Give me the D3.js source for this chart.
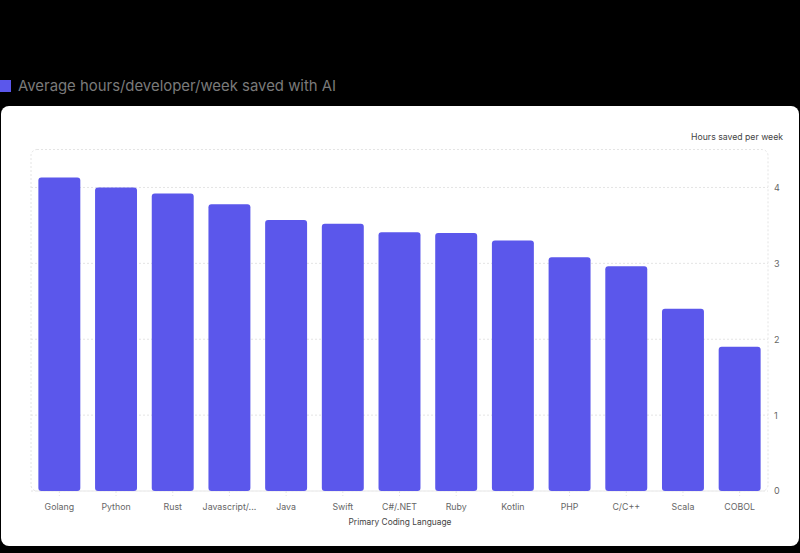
<!DOCTYPE html>
<html>
<head>
<meta charset="utf-8">
<script src="https://cdn.jsdelivr.net/npm/d3@7"></script>
<style>
  html, body { margin: 0; padding: 0; background: #000; }
  svg { display: block; font-family: Inter, "Noto Sans", sans-serif; }
</style>
</head>
<body>
<svg id="chart" width="800" height="553"></svg>
<script>
const categories = ["Golang", "Python", "Rust", "Javascript/...", "Java", "Swift", "C#/.NET", "Ruby", "Kotlin", "PHP", "C/C++", "Scala", "COBOL"];
const hoursSaved = [4.13, 4.0, 3.92, 3.78, 3.57, 3.52, 3.41, 3.40, 3.30, 3.08, 2.96, 2.40, 1.90];
const yTicks = [0, 1, 2, 3, 4];
const seriesName = "Average hours/developer/week saved with AI";
const yAxisTitle = "Hours saved per week";
const xAxisTitle = "Primary Coding Language";

const svg = d3.select("#chart");
const W = 800, H = 553;
const barColor = "#5b57eb";

svg.append("rect").attr("width", W).attr("height", H).attr("fill", "#000");

// legend
svg.append("rect").attr("x", 0).attr("y", 80).attr("width", 11).attr("height", 12).attr("fill", barColor);
svg.append("text").attr("x", 18).attr("y", 86).attr("dy", "0.35em")
  .attr("fill", "#7a7a7a").attr("font-size", 14.9).text(seriesName);

// card
svg.append("rect").attr("x", 1).attr("y", 106).attr("width", 798).attr("height", 440)
  .attr("rx", 8).attr("fill", "#fff");

const plot = { left: 31, right: 768, top: 149.5, bottom: 491 };

const x = d3.scaleBand().domain(categories).range([plot.left, plot.right])
  .paddingInner(0.26).paddingOuter(0.13);
const y = d3.scaleLinear().domain([0, 4.5]).range([plot.bottom, plot.top]);

// plot frame (dashed, rounded)
svg.append("rect").attr("x", plot.left).attr("y", plot.top)
  .attr("width", plot.right - plot.left).attr("height", plot.bottom - plot.top)
  .attr("rx", 6).attr("fill", "none").attr("stroke", "#e4e4e4")
  .attr("stroke-dasharray", "2,2");

// grid lines
svg.append("g").selectAll("line").data(yTicks).join("line")
  .attr("x1", plot.left).attr("x2", plot.right)
  .attr("y1", d => y(d)).attr("y2", d => y(d))
  .attr("stroke", "#e4e4e4").attr("stroke-dasharray", "2,2");

// y axis (right)
const yAxis = svg.append("g").attr("transform", `translate(${plot.right},0)`)
  .call(d3.axisRight(y).tickValues(yTicks).tickSize(0).tickPadding(6).tickFormat(d3.format("d")));
yAxis.select(".domain").remove();
yAxis.selectAll("text").attr("fill", "#666").attr("font-size", 9).attr("font-family", "Inter, sans-serif");

svg.append("text").attr("x", 783).attr("y", 137).attr("dy", "0.35em").attr("text-anchor", "end")
  .attr("fill", "#444").attr("font-size", 8.7).text(yAxisTitle);

// bars
svg.append("g").selectAll("rect").data(categories).join("rect")
  .attr("x", d => x(d))
  .attr("y", (d, i) => y(hoursSaved[i]))
  .attr("width", x.bandwidth())
  .attr("height", (d, i) => y(0) - y(hoursSaved[i]))
  .attr("rx", 3)
  .attr("fill", barColor);

// x axis
const xAxis = svg.append("g").attr("transform", `translate(0,${plot.bottom})`)
  .call(d3.axisBottom(x).tickSize(5).tickPadding(8));
xAxis.select(".domain").remove();
xAxis.selectAll(".tick line").attr("stroke", "#e4e4e4").attr("stroke-dasharray", "2,2");
xAxis.selectAll("text").attr("fill", "#666").attr("font-size", 8.8).attr("font-family", "Inter, sans-serif");

svg.append("text").attr("x", 400).attr("y", 522).attr("dy", "0.35em")
  .attr("text-anchor", "middle").attr("fill", "#444").attr("font-size", 8.4).text(xAxisTitle);
</script>
</body>
</html>
